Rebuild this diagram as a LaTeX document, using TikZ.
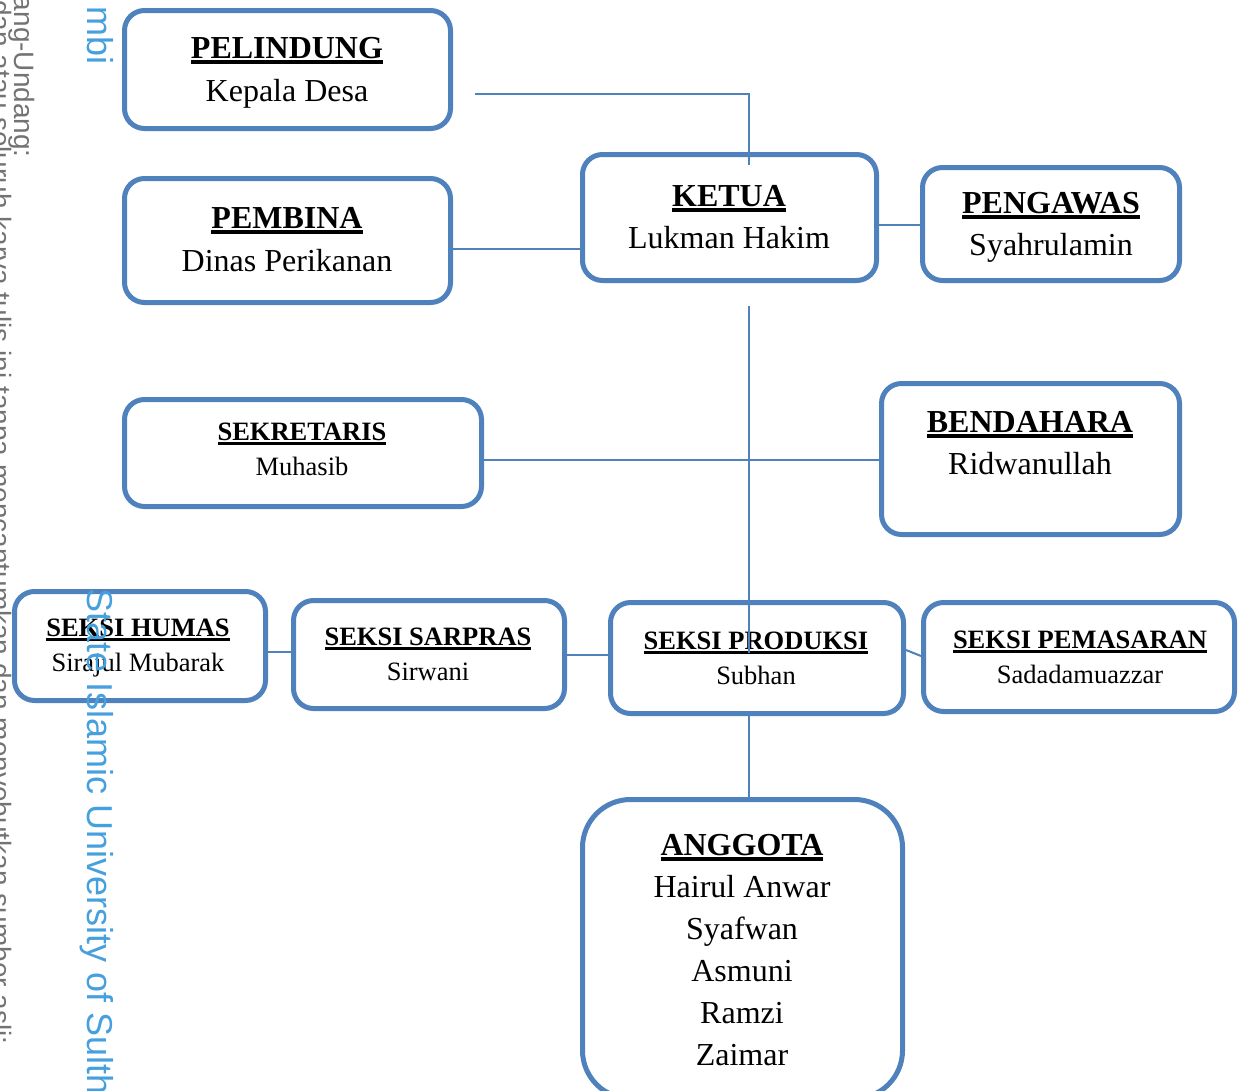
\documentclass[tikz,border=0pt]{standalone}
\usepackage{fontspec}
\setmainfont{Liberation Serif}
\newfontfamily\wmfont{Liberation Sans}
\definecolor{bl}{RGB}{79,129,189}
\definecolor{wmblue}{RGB}{70,160,222}
\definecolor{wmgrey}{RGB}{115,115,115}
\newcommand\ulb[1]{\setbox0\hbox{\bfseries #1}\rlap{\rule[-0.18em]{\wd0}{0.105em}}\box0}
\begin{document}
\begin{tikzpicture}[x=1pt,y=-1pt,
  box/.style={draw=bl, line width=5pt, rounded corners=20pt, fill=white, inner sep=0pt},
  conn/.style={draw=bl, line width=2pt},
  tbig/.style={font=\fontsize{32}{38}\selectfont, anchor=base, inner sep=0pt},
  tsm/.style={font=\fontsize{26.5}{32}\selectfont, anchor=base, inner sep=0pt},
  wm/.style={font=\wmfont\fontsize{36}{40}\selectfont, text=wmblue, rotate=-90, inner sep=0pt},
  wmg/.style={font=\wmfont\fontsize{28}{32}\selectfont, text=wmgrey, rotate=-90, inner sep=0pt}]
\useasboundingbox (0,0) rectangle (1239,1090);
\clip (0,0) rectangle (1239,1090);
\fill[white] (0,0) rectangle (1239,1090);

% boxes
\node[box, minimum width=326pt, minimum height=118pt] (pel) at (287.5,69.5) {};
\node[box, minimum width=326pt, minimum height=124pt] (pem) at (287.5,240.5) {};
\node[box, minimum width=294pt, minimum height=126pt] (ket) at (729.5,217.5) {};
\node[box, minimum width=257pt, minimum height=113pt] (peng) at (1051,224) {};
\node[box, minimum width=357pt, minimum height=107pt] (sek) at (303,453) {};
\node[box, minimum width=298pt, minimum height=151pt] (ben) at (1030.5,459) {};
\node[box, minimum width=251pt, minimum height=109pt] (hum) at (140,646) {};
\node[box, minimum width=271pt, minimum height=108pt] (sar) at (429,654.5) {};
\node[box, minimum width=293pt, minimum height=111pt] (pro) at (757,658) {};
\node[box, minimum width=311pt, minimum height=109pt] (pms) at (1079,657) {};
\node[box, rounded corners=48pt, minimum width=320pt, minimum height=299pt] (ang) at (742.5,949) {};

% texts
\node[tbig] (pelA) at (287,58) {\ulb{PELINDUNG}};
\node[tbig] (pelB) at (287,101) {Kepala Desa};
\node[tbig] (pemA) at (287,228) {\ulb{PEMBINA}};
\node[tbig] (pemB) at (287,271) {Dinas Perikanan};
\node[tbig] (ketA) at (729,206) {\ulb{KETUA}};
\node[tbig] (ketB) at (729,248) {Lukman Hakim};
\node[tbig] (pengA) at (1051,213) {\ulb{PENGAWAS}};
\node[tbig] (pengB) at (1051,255) {Syahrulamin};
\node[tsm] (sekA) at (302,440) {\ulb{SEKRETARIS}};
\node[tsm] (sekB) at (302,475) {Muhasib};
\node[tbig] (benA) at (1030,432) {\ulb{BENDAHARA}};
\node[tbig] (benB) at (1030,474) {Ridwanullah};
\node[tsm] (humA) at (138,636) {\ulb{SEKSI HUMAS}};
\node[tsm] (humB) at (138,671) {Sirajul Mubarak};
\node[tsm] (sarA) at (428,645) {\ulb{SEKSI SARPRAS}};
\node[tsm] (sarB) at (428,680) {Sirwani};
\node[tsm] (proA) at (756,649) {\ulb{SEKSI PRODUKSI}};
\node[tsm] (proB) at (756,684) {Subhan};
\node[tsm] (pmsA) at (1080,648) {\ulb{SEKSI PEMASARAN}};
\node[tsm] (pmsB) at (1080,683) {Sadadamuazzar};
\node[tbig] (angA) at (742,855) {\ulb{ANGGOTA}};
\node[tbig] (angB) at (742,897) {Hairul Anwar};
\node[tbig] (angC) at (742,939) {Syafwan};
\node[tbig] (angD) at (742,981) {Asmuni};
\node[tbig] (angE) at (742,1023) {Ramzi};
\node[tbig] (angF) at (742,1065) {Zaimar};

% connectors
\coordinate (c1) at (475,94);
\coordinate (ketin) at (749,165);
\coordinate (v1) at (749,306);
\coordinate (v2) at (749,653);
\draw[conn] (c1) -| (ketin);
\draw[conn] (pem.east |- 0,249) -- (ket.west |- 0,249);
\draw[conn] (ket.east |- 0,225) -- (peng.west |- 0,225);
\draw[conn] (v1) -- (v2);
\draw[conn] (sek.east |- 0,460) -- (ben.west |- 0,460);
\draw[conn] (hum.east |- 0,652) -- (sar.west |- 0,652);
\draw[conn] (sar.east |- 0,655) -- (pro.west |- 0,655);
\draw[conn] (pro.east |- 0,650) -- (pms.west |- 0,656);
\draw[conn] (pro.south -| 749,0) -- (ang.north -| 749,0);

% watermark
\node[wm, anchor=base east] (wm1) at (87,65) {mbi};
\node[wm, anchor=base west] (wm2) at (87,588) {State Islamic University of Sulth};
\node[wmg, anchor=base east] (wm3) at (14,158) {ang-Undang:};
\node[wmg, anchor=base east] (wm4) at (-9,1045) {gaian dan atau seluruh karya tulis ini tanpa mencantumkan dan menyebutkan sumber asli:};
\end{tikzpicture}
\end{document}
